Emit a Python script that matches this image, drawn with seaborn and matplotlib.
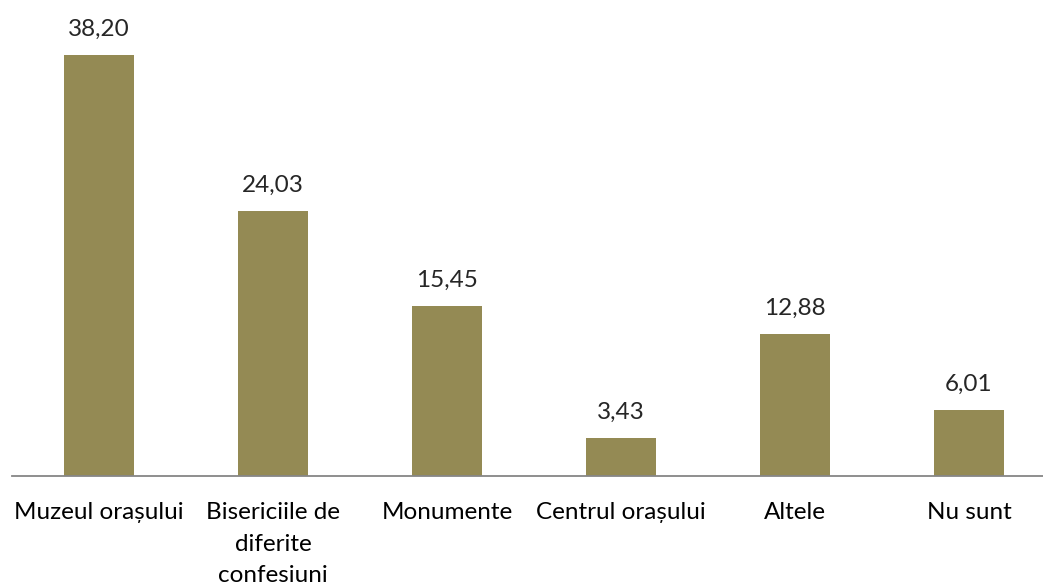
import matplotlib
matplotlib.use("Agg")
import matplotlib.pyplot as plt
import seaborn as sns
import pandas as pd

# --- date ---
categorii = ["Muzeul orașului", "Bisericiile de\ndiferite\nconfesiuni", "Monumente",
             "Centrul orașului", "Altele", "Nu sunt"]
valori = [38.20, 24.03, 15.45, 3.43, 12.88, 6.01]

sns.set_theme(style="white")
plt.rcParams['font.family'] = ['Lato', 'DejaVu Sans']

df = pd.DataFrame({"cat": categorii, "val": valori})

fig = plt.figure(figsize=(10.43, 5.88), dpi=100)
# axa: de la x=12px, latime 6*174px; linia de baza la y=476px
ax = fig.add_axes([12 / 1043, 1 - 476 / 588, 6 * 174 / 1043, 440.8 / 588])

sns.barplot(data=df, x="cat", y="val", ax=ax, color="#948A54", saturation=1,
            width=0.4, edgecolor="none")

ax.set_ylim(0, 40)
ax.set_xlim(-0.5, len(categorii) - 0.5)
ax.set_xlabel("")
ax.set_ylabel("")
ax.set_yticks([])
for s in ["top", "right", "left"]:
    ax.spines[s].set_visible(False)
ax.spines["bottom"].set_color("#868686")
ax.spines["bottom"].set_linewidth(1.3)
ax.tick_params(axis="x", length=0, pad=19, labelsize=17.5, colors="black")
for t in ax.get_xticklabels():
    t.set_linespacing(1.62)
    t.set_va("top")
    t.set_multialignment("center")

labels = [f"{v:.2f}".replace(".", ",") for v in valori]
ax.bar_label(ax.containers[0], labels=labels, padding=11, fontsize=17.5)

fig.savefig("out.png", dpi=100)
